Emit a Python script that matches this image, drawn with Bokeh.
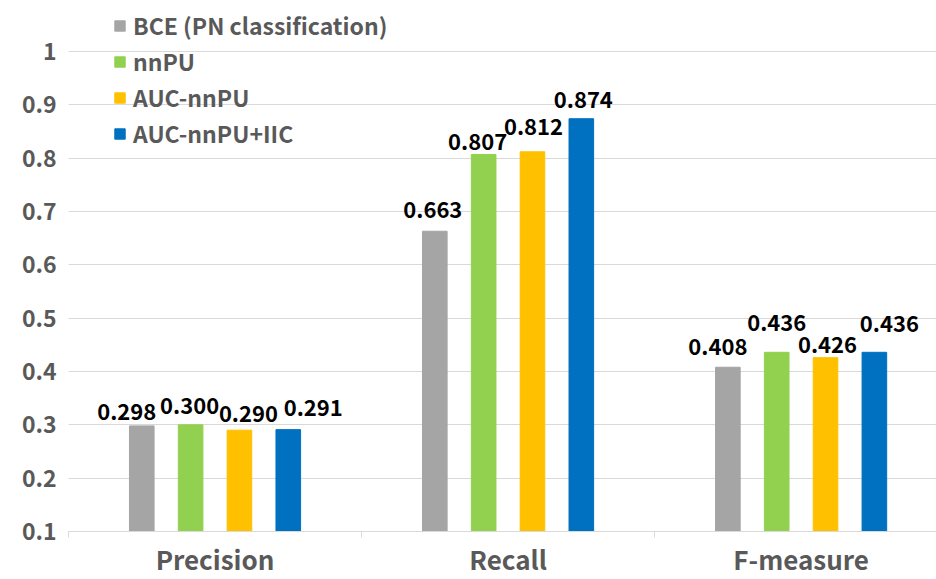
from bokeh.plotting import figure
from bokeh.models import Range1d, FixedTicker, ColumnDataSource, LabelSet, Legend, LegendItem
from bokeh.core.properties import value
from bokeh.embed import file_html
from bokeh.resources import INLINE

# ---- data ----
categories = ["Precision", "Recall", "F-measure"]
series_names = ["BCE (PN classification)", "nnPU", "AUC-nnPU", "AUC-nnPU+IIC"]
bce = [0.298, 0.663, 0.408]
nnpu = [0.300, 0.807, 0.436]
auc_nnpu = [0.290, 0.812, 0.426]
auc_nnpu_iic = [0.291, 0.874, 0.436]
y_ticks = [0.1, 0.2, 0.3, 0.4, 0.5, 0.6, 0.7, 0.8, 0.9, 1.0]

# ---- style ----
colors = ["#A5A5A5", "#92D050", "#FFC000", "#0070C0"]
offsets = [-0.25, -0.0833, 0.0833, 0.25]
bar_width = 0.084
FONT = "Noto Sans CJK JP"
GREY = "#595959"
GRID = "#D9D9D9"
# per-label nudges (pixels) mimicking the original label placement
label_dx = [[-15, -2, -10], [-1, -6, 0], [9, 1, 2], [25, 2, 15]]
label_dy = [[6, 13, 12], [11, 4, 21], [8, 17, 5], [14, 11, 20]]

all_series = [bce, nnpu, auc_nnpu, auc_nnpu_iic]

p = figure(width=936, height=579, output_backend="svg", toolbar_location=None,
           x_range=Range1d(0, 2.962), y_range=Range1d(0.1, 1.0863),
           min_border_left=68, min_border_right=0, min_border_top=5, min_border_bottom=48)
p.outline_line_color = None
p.background_fill_color = "white"
p.border_fill_color = "white"

renderers = []
for i, vals in enumerate(all_series):
    xs = [j + 0.5 + offsets[i] for j in range(len(categories))]
    src = ColumnDataSource(dict(
        x=xs, top=vals,
        label=["%.3f" % v for v in vals],
        dx=label_dx[i], dy=label_dy[i]))
    r = p.vbar(x="x", top="top", bottom=0, width=bar_width, source=src,
               fill_color=colors[i], line_color=colors[i])
    renderers.append(r)
    labels = LabelSet(x="x", y="top", text="label", source=src,
                      x_offset="dx", y_offset="dy",
                      text_align="center", text_baseline="alphabetic",
                      text_font=value(FONT), text_font_style="bold",
                      text_font_size="22px", text_color="black")
    p.add_layout(labels)

# x axis
p.xaxis.ticker = FixedTicker(ticks=[j + 0.5 for j in range(len(categories))],
                             minor_ticks=[0, 1, 2, 3])
p.xaxis.major_label_overrides = {j + 0.5: c for j, c in enumerate(categories)}
p.xaxis.major_tick_out = 0
p.xaxis.major_tick_in = 0
p.xaxis.minor_tick_out = 6
p.xaxis.minor_tick_in = 0
p.xaxis.minor_tick_line_color = GRID
p.xaxis.axis_line_color = GRID
p.xaxis.major_label_text_font = FONT
p.xaxis.major_label_text_font_style = "bold"
p.xaxis.major_label_text_font_size = "26px"
p.xaxis.major_label_text_color = GREY
p.xaxis.major_label_standoff = 2
p.xgrid.grid_line_color = None

# y axis
p.yaxis.ticker = FixedTicker(ticks=y_ticks, minor_ticks=[])
p.yaxis.major_label_overrides = {t: ("1" if t == 1.0 else "%.1f" % t) for t in y_ticks}
p.yaxis.axis_line_color = None
p.yaxis.major_tick_out = 0
p.yaxis.major_tick_in = 0
p.yaxis.major_label_text_font = FONT
p.yaxis.major_label_text_font_style = "bold"
p.yaxis.major_label_text_font_size = "23px"
p.yaxis.major_label_text_color = GREY
p.yaxis.major_label_standoff = 12
p.ygrid.ticker = FixedTicker(ticks=y_ticks[1:])
p.ygrid.grid_line_color = GRID

legend = Legend(items=[LegendItem(label=n, renderers=[r]) for n, r in zip(series_names, renderers)],
                location=(45, 380))
legend.label_text_font = FONT
legend.label_text_font_style = "bold"
legend.label_text_font_size = "23px"
legend.label_text_color = GREY
legend.glyph_width = 13
legend.glyph_height = 13
legend.label_height = 36
legend.label_standoff = 7
legend.spacing = 0
legend.padding = 0
legend.margin = 0
legend.border_line_color = None
legend.background_fill_alpha = 0
p.add_layout(legend, "center")

open("out.html", "w").write(file_html(p, INLINE))
